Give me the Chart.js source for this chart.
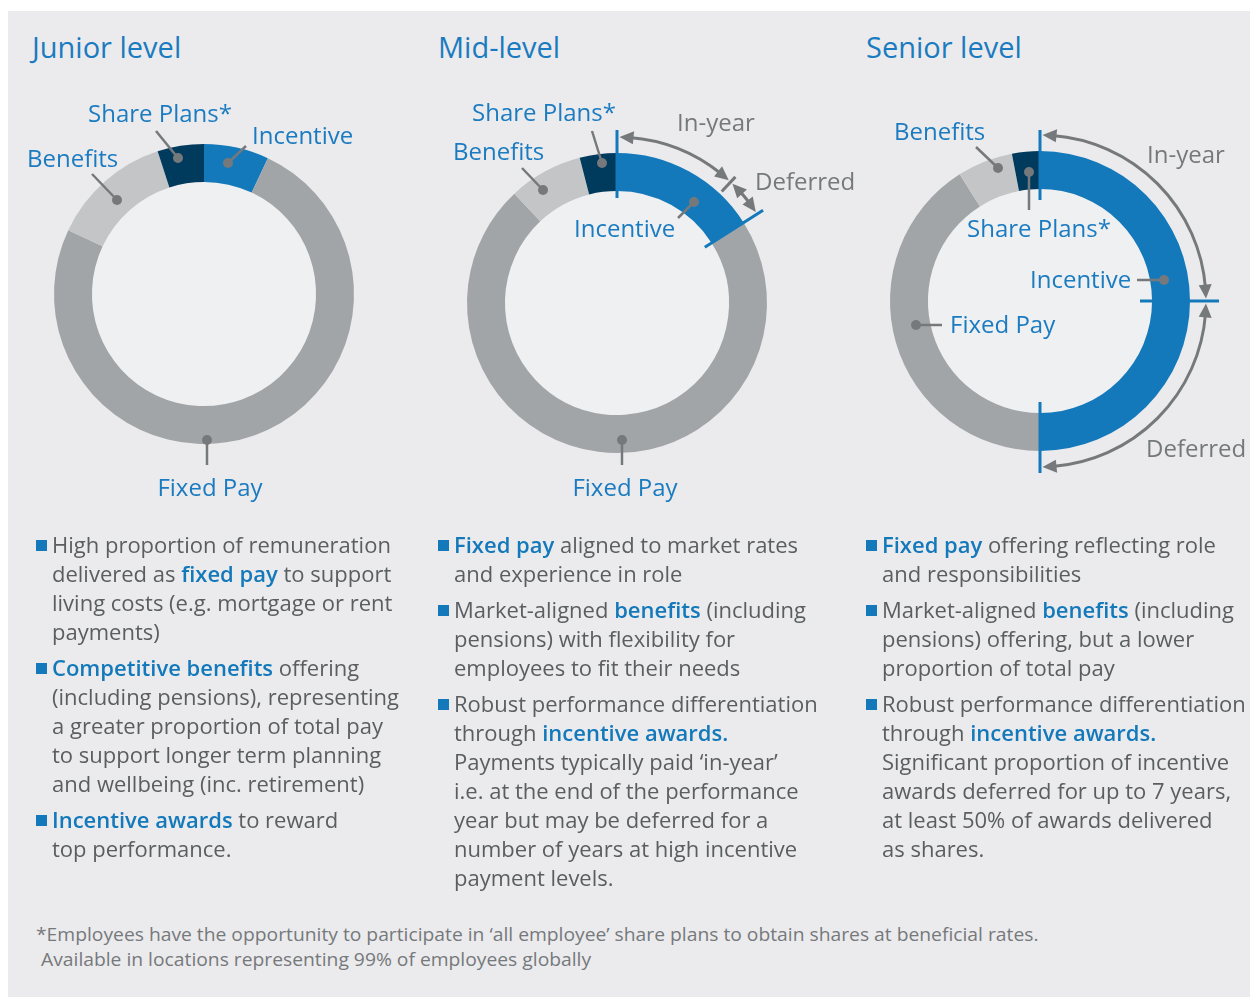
<!DOCTYPE html>
<html>
<head>
<meta charset="utf-8">
<script src="https://cdn.jsdelivr.net/npm/chart.js@4.4.1/dist/chart.umd.min.js"></script>
<style>
  body { margin: 0; width: 1253px; height: 999px; overflow: hidden; position: relative; background: #fff; font-family: "Open Sans", sans-serif; }
  #panel { position: absolute; left: 8px; top: 11px; width: 1242px; height: 986px; background: #ebebed; }
  .title { position: absolute; top: 32px; font-size: 29px; line-height: 30px; color: #1b7bc0; white-space: nowrap; }
  canvas { position: absolute; }
  .col { position: absolute; top: 530px; font-size: 22px; line-height: 29px; color: #5b5e61; white-space: nowrap; }
  .col p { margin: 0 0 7px 0; padding-left: 16px; position: relative; }
  .col p::before { content: ""; position: absolute; left: 0; top: 10px; width: 11px; height: 11px; background: #1379bb; }
  .col b { color: #1379bb; font-weight: 600; }
  #foot { position: absolute; left: 36px; top: 922px; font-size: 19px; line-height: 25px; color: #76797c; white-space: nowrap; transform-origin: 0 0; }
</style>
</head>
<body>
<div id="panel"></div>

<div class="title" style="left:32px">Junior level</div>
<div class="title" style="left:438px">Mid-level</div>
<div class="title" style="left:866px">Senior level</div>

<canvas id="junior" width="520" height="460"></canvas>
<canvas id="mid" width="520" height="460"></canvas>
<canvas id="senior" width="520" height="460"></canvas>

<div class="col" style="left:36px">
  <p>High proportion of remuneration<br>delivered as <b>fixed pay</b> to support<br>living costs (e.g. mortgage or rent<br>payments)</p>
  <p><b>Competitive benefits</b> offering<br>(including pensions), representing<br>a greater proportion of total pay<br>to support longer term planning<br>and wellbeing (inc. retirement)</p>
  <p><b>Incentive awards</b> to reward<br>top performance.</p>
</div>
<div class="col" style="left:438px">
  <p><b>Fixed pay</b> aligned to market rates<br>and experience in role</p>
  <p>Market-aligned <b>benefits</b> (including<br>pensions) with flexibility for<br>employees to fit their needs</p>
  <p>Robust performance differentiation<br>through <b>incentive awards.</b><br>Payments typically paid ‘in-year’<br>i.e. at the end of the performance<br>year but may be deferred for a<br>number of years at high incentive<br>payment levels.</p>
</div>
<div class="col" style="left:866px">
  <p><b>Fixed pay</b> offering reflecting role<br>and responsibilities</p>
  <p>Market-aligned <b>benefits</b> (including<br>pensions) offering, but a lower<br>proportion of total pay</p>
  <p>Robust performance differentiation<br>through <b>incentive awards.</b><br>Significant proportion of incentive<br>awards deferred for up to 7 years,<br>at least 50% of awards delivered<br>as shares.</p>
</div>

<div id="foot">*Employees have the opportunity to participate in ‘all employee’ share plans to obtain shares at beneficial rates.<br>&nbsp;Available in locations representing 99% of employees globally</div>

<script>
// pay mix, % of total remuneration, clockwise from 12 o'clock
const segments = ["Incentive", "Fixed Pay", "Benefits", "Share Plans*"];
const juniorMix = [7, 75, 13, 5];
const midMix = [16, 72, 8, 4];
const seniorMix = [50, 41, 6, 3];

// split of the incentive slice
const payTiming = ["In-year", "Deferred"];
const midInYear = [12, 4];
const seniorInYear = [25, 25];

const segColours = ["#1379bb", "#a2a5a8", "#c4c5c7", "#003a5c"];
const BLUE_TEXT = "#1b7bc0";
const GREY = "#76797c";
const LABEL_FONT = '24px "Open Sans", sans-serif';

// label placement relative to the ring centre (text x/y = baseline, line = from -> dot)
const decor = {
  junior: {
    cx: 204, cy: 294,
    labels: [
      { seg: 3, x: -116, y: -172, line: [-48, -163, -26, -136] },
      { seg: 0, x: 48, y: -150, line: [42, -148, 24, -131] },
      { seg: 2, x: -177, y: -127, line: [-112, -120, -87, -94] },
      { seg: 1, x: 6, y: 202, align: "center", line: [3, 171, 3, 146] },
    ],
  },
  mid: {
    cx: 617, cy: 303,
    labels: [
      { seg: 3, x: -145, y: -182, line: [-25, -172, -15, -140] },
      { seg: 2, x: -164, y: -143, line: [-95, -135, -74, -113] },
      { seg: 0, x: -43, y: -66, line: [61, -85, 77, -101] },
      { seg: 1, x: 8, y: 193, align: "center", line: [5, 162, 5, 137] },
    ],
    timing: { split: midInYear, r: 166, ticks: [[105, 173], [153, 173, GREY], [104, 173]],
              text: [[60, -172], [138, -113]] },
  },
  senior: {
    cx: 1040, cy: 301,
    labels: [
      { seg: 2, x: -146, y: -161, line: [-64, -154, -42, -133] },
      { seg: 3, x: -73, y: -64, line: [-11, -91, -11, -129] },
      { seg: 0, x: -10, y: -13, line: [97, -21, 124, -21] },
      { seg: 1, x: -90, y: 32, line: [-98, 24, -124, 24] },
    ],
    timing: { split: seniorInYear, r: 166, ticks: [[101, 171], [100, 179], [101, 172]],
              text: [[107, -138], [106, 156]] },
  },
};

function polar(cx, cy, r, deg) {
  const a = (deg - 90) * Math.PI / 180;
  return [cx + r * Math.cos(a), cy + r * Math.sin(a)];
}

function arrowHead(ctx, cx, cy, r, tipDeg, dir) {
  const len = 14, w = 13;
  const baseDeg = tipDeg + dir * (len / r) * 180 / Math.PI;
  const t = polar(cx, cy, r, tipDeg);
  const b1 = polar(cx, cy, r - w / 2, baseDeg);
  const b2 = polar(cx, cy, r + w / 2, baseDeg);
  ctx.beginPath();
  ctx.moveTo(t[0], t[1]);
  ctx.lineTo(b1[0], b1[1]);
  ctx.lineTo(b2[0], b2[1]);
  ctx.closePath();
  ctx.fill();
}

function arcArrow(ctx, cx, cy, r, a0, a1) {
  const gap = (2.5 / r) * 180 / Math.PI;
  const inset = (10 / r) * 180 / Math.PI;
  const t0 = a0 + gap, t1 = a1 - gap;
  ctx.beginPath();
  ctx.arc(cx, cy, r, (t0 + inset - 90) * Math.PI / 180, (t1 - inset - 90) * Math.PI / 180);
  ctx.stroke();
  arrowHead(ctx, cx, cy, r, t0, 1);
  arrowHead(ctx, cx, cy, r, t1, -1);
}

const ringDecor = {
  id: "ringDecor",
  beforeDatasetsDraw(chart) {
    const arc = chart.getDatasetMeta(0).data[0];
    const ctx = chart.ctx;
    ctx.save();
    ctx.fillStyle = "#eff0f2";
    ctx.beginPath();
    ctx.arc(arc.x, arc.y, arc.innerRadius, 0, Math.PI * 2);
    ctx.fill();
    ctx.restore();
  },
  afterDatasetsDraw(chart) {
    const cfg = decor[chart.canvas.id];
    const meta = chart.getDatasetMeta(0);
    const cx = meta.data[0].x, cy = meta.data[0].y;
    const ctx = chart.ctx;
    ctx.save();

    if (cfg.timing) {
      const data = chart.data.datasets[0].data;
      const total = data.reduce((a, b) => a + b, 0);
      const s = cfg.timing.split;
      const angles = [0, s[0] / total * 360, (s[0] + s[1]) / total * 360];
      // arrows
      ctx.strokeStyle = GREY;
      ctx.fillStyle = GREY;
      ctx.lineWidth = 3;
      arcArrow(ctx, cx, cy, cfg.timing.r, angles[0], angles[1]);
      arcArrow(ctx, cx, cy, cfg.timing.r, angles[1], angles[2]);
      // radial ticks
      cfg.timing.ticks.forEach((tk, i) => {
        const p0 = polar(cx, cy, tk[0], angles[i]);
        const p1 = polar(cx, cy, tk[1], angles[i]);
        ctx.strokeStyle = tk[2] || segColours[0];
        ctx.lineWidth = 3;
        ctx.beginPath();
        ctx.moveTo(p0[0], p0[1]);
        ctx.lineTo(p1[0], p1[1]);
        ctx.stroke();
      });
      ctx.font = LABEL_FONT;
      ctx.fillStyle = GREY;
      ctx.textAlign = "left";
      ctx.textBaseline = "alphabetic";
      cfg.timing.text.forEach((p, i) => ctx.fillText(payTiming[i], cx + p[0], cy + p[1]));
    }

    cfg.labels.forEach((lb) => {
      const [x1, y1, x2, y2] = lb.line;
      ctx.strokeStyle = GREY;
      ctx.lineWidth = 2.5;
      ctx.beginPath();
      ctx.moveTo(cx + x1, cy + y1);
      ctx.lineTo(cx + x2, cy + y2);
      ctx.stroke();
      ctx.fillStyle = GREY;
      ctx.beginPath();
      ctx.arc(cx + x2, cy + y2, 5, 0, Math.PI * 2);
      ctx.fill();
      ctx.font = LABEL_FONT;
      ctx.fillStyle = BLUE_TEXT;
      ctx.textAlign = lb.align || "left";
      ctx.textBaseline = "alphabetic";
      ctx.fillText(chart.data.labels[lb.seg], cx + lb.x, cy + lb.y);
    });
    ctx.restore();
  },
};

function makeRing(id, mix) {
  const canvas = document.getElementById(id);
  const d = decor[id];
  canvas.style.left = (d.cx - canvas.width / 2) + "px";
  canvas.style.top = (d.cy - canvas.height / 2) + "px";
  return new Chart(canvas, {
    type: "doughnut",
    data: {
      labels: segments,
      datasets: [{ data: mix, backgroundColor: segColours, borderWidth: 0, hoverOffset: 0 }],
    },
    options: {
      responsive: false,
      animation: false,
      events: [],
      radius: 150,
      cutout: "74.7%",
      rotation: 0,
      layout: { padding: 0 },
      plugins: { legend: { display: false }, tooltip: { enabled: false } },
    },
    plugins: [ringDecor],
  });
}

makeRing("junior", juniorMix);
makeRing("mid", midMix);
makeRing("senior", seniorMix);

// squeeze the footnote to the narrow width used in the original
const foot = document.getElementById("foot");
foot.style.transform = "scaleX(" + (1002 / foot.scrollWidth) + ")";
</script>
</body>
</html>
